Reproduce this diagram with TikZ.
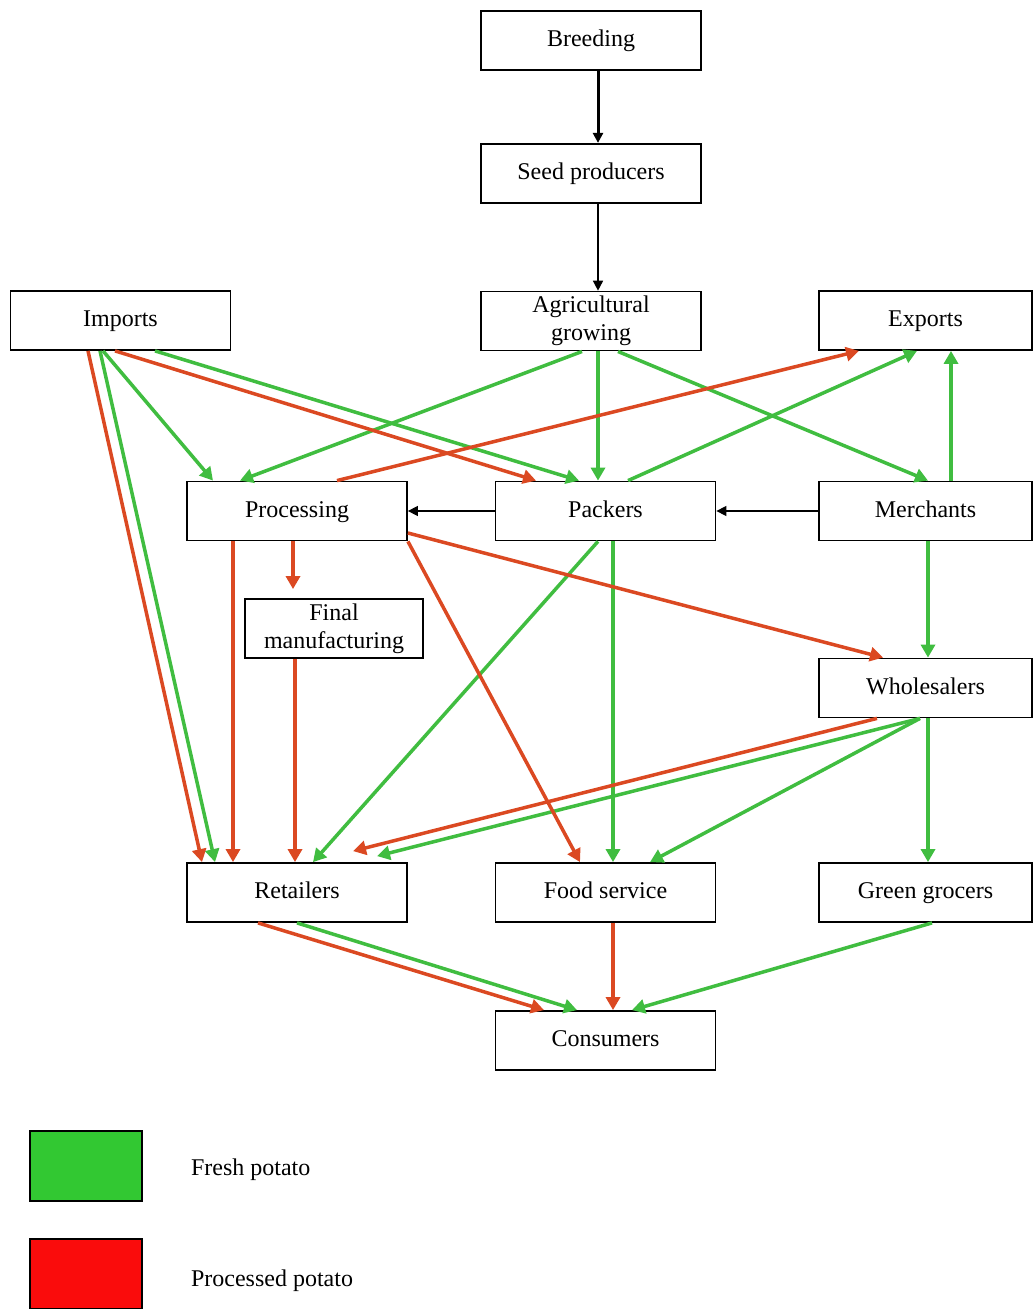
\documentclass[tikz,border=0pt]{standalone}
\usepackage{fontspec}
\setmainfont{Liberation Serif}
\usetikzlibrary{arrows.meta, positioning, calc}

\definecolor{freshgreen}{RGB}{64,189,64}
\definecolor{procred}{RGB}{219,73,34}
\definecolor{keygreen}{RGB}{50,200,50}
\definecolor{keyred}{RGB}{250,12,12}

\begin{document}
\begin{tikzpicture}[x=0.5pt, y=-0.5pt,
    block/.style={rectangle, draw, line width=0.9pt, fill=white, minimum width=110pt, minimum height=29.5pt, inner sep=1pt, align=center, text height=8.5pt, text depth=2.5pt, font=\fontsize{12}{14}\selectfont},
    twoline/.style={text height=, text depth=},
    sideblock/.style={block, minimum width=106.5pt},
    fresh/.style={line width=1.75pt, draw=freshgreen, -{Triangle[length=6.5pt,width=7pt]}},
    processed/.style={line width=1.75pt, draw=procred, -{Triangle[length=6.5pt,width=7pt]}},
    link/.style={line width=0.75pt, -{Triangle[length=5pt,width=5pt]}},
    keybox/.style={rectangle, draw, line width=0.8pt, minimum width=56pt, minimum height=35pt, inner sep=0pt}]
    \useasboundingbox (0,0) rectangle (1033,1309);

    % supply chain boxes
    \node [block] (breed) at (591,40.5) {Breeding};
    \node [block, below=36pt of breed] (seed) {Seed producers};
    \node [block, twoline, below=43.5pt of seed] (agri) {Agricultural\\growing};
    \node [block] (imp) at (120.5,320.5) {Imports};
    \node [sideblock] (exp) at (925.5,320.5) {Exports};
    \node [block] (proc) at (297,511) {Processing};
    \node [block] (pack) at (605.5,511) {Packers};
    \node [sideblock] (merch) at (925.5,511) {Merchants};
    \node [block, twoline, minimum width=89pt] (fin) at (334,628.5) {Final\\manufacturing};
    \node [sideblock] (whol) at (925.5,688) {Wholesalers};
    \node [block] (ret) at (297,892.5) {Retailers};
    \node [block] (food) at (605.5,892.5) {Food service};
    \node [sideblock] (groc) at (925.5,892.5) {Green grocers};
    \node [block] (cons) at (605.5,1040.5) {Consumers};

    % key
    \node [keybox, fill=keygreen] (keyfresh) at (86,1166) {};
    \node [keybox, fill=keyred] (keyproc) at (86,1274) {};
    \node [anchor=west, font=\fontsize{12}{14}\selectfont] (freshlbl) at (184,1170) {Fresh potato};
    \node [anchor=west, font=\fontsize{12}{14}\selectfont] (proclbl) at (184,1281) {Processed potato};

    % black links
    \draw [link, line width=1.5pt] ($(breed.south)+(7,0)$) -- ($(seed.north)+(7,0)$);
    \draw [link] ($(seed.south)+(7,0)$) -- ($(agri.north)+(7,0)$);
    \draw [link] (pack.west) -- (proc.east);
    \draw [link] (merch.west) -- (pack.east);

    % fresh potato
    \draw [fresh] ($(imp.south)+(-17.5,0)$) -- ($(proc.north)+(-84,0)$);
    \draw [fresh] ($(imp.south)+(34.5,0)$) -- ($(pack.north)+(-26.5,0)$);
    \draw [fresh] ($(imp.south)+(-20.5,0)$) -- ($(ret.north)+(-82,0)$);
    \draw [fresh] ($(agri.south)+(-9,0)$) -- ($(proc.north)+(-57,0)$);
    \draw [fresh] ($(agri.south)+(7,0)$) -- ($(pack.north)+(-7.5,0)$);
    \draw [fresh] ($(agri.south)+(27,0)$) -- ($(merch.north)+(2.5,0)$);
    \draw [fresh] ($(pack.north)+(22.5,0)$) -- ($(exp.south)+(-8.5,0)$);
    \draw [fresh] ($(merch.north)+(25.5,0)$) -- ($(exp.south)+(25.5,0)$);
    \draw [fresh] ($(merch.south)+(2.5,0)$) -- ($(whol.north)+(2.5,0)$);
    \draw [fresh] ($(pack.south)+(-7.5,0)$) -- ($(ret.north)+(16,0)$);
    \draw [fresh] ($(pack.south)+(7.5,0)$) -- ($(food.north)+(7.5,0)$);
    \draw [fresh] ($(whol.south)+(-5.5,0)$) -- ($(ret.north)+(80,-6)$);
    \draw [fresh] ($(whol.south)+(-5.5,0)$) -- ($(food.north)+(44.5,0)$);
    \draw [fresh] ($(whol.south)+(2.5,0)$) -- ($(groc.north)+(2.5,0)$);
    \draw [fresh] (ret.south) -- ($(cons.north)+(-28.5,0)$);
    \draw [fresh] ($(groc.south)+(6.5,0)$) -- ($(cons.north)+(26.5,0)$);

    % processed potato
    \draw [processed] ($(imp.south)+(-32.5,0)$) -- ($(ret.north)+(-95,0)$);
    \draw [processed] ($(imp.south)+(-5.5,0)$) -- ($(pack.north)+(-69.5,0)$);
    \draw [processed] ($(proc.north)+(40,0)$) -- ($(exp.south)+(-66.5,0)$);
    \draw [processed] ($(proc.south)+(-64,0)$) -- ($(ret.north)+(-64,0)$);
    \draw [processed] ($(proc.south)+(-4,0)$) -- ($(fin.north)+(-41,-9)$);
    \draw [processed] ($(fin.south)+(-39,0)$) -- ($(ret.north)+(-2,0)$);
    \draw [processed] (proc.south east) -- ($(food.north)+(-25.5,0)$);
    \draw [processed] ($(proc.east)+(0,22)$) -- ($(whol.north)+(-42.5,0)$);
    \draw [processed] ($(whol.south)+(-48.5,0)$) -- ($(ret.north)+(56,-11)$);
    \draw [processed] ($(food.south)+(7.5,0)$) -- ($(cons.north)+(7.5,0)$);
    \draw [processed] ($(ret.south)+(-39,0)$) -- ($(cons.north)+(-61.5,0)$);
\end{tikzpicture}
\end{document}
